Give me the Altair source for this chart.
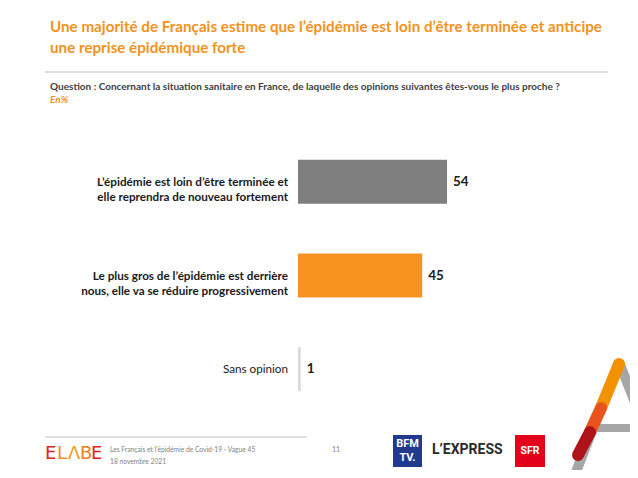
import altair as alt
import pandas as pd

# ---- data ----
categories = [
    "L\u2019épidémie est loin d\u2019être terminée et\nelle reprendra de nouveau fortement",
    "Le plus gros de l\u2019épidémie est derrière\nnous, elle va se réduire progressivement",
    "Sans opinion",
]
values = [54, 45, 1]
bar_colors = ["#7f7f7f", "#f7931e", "#d9d9d9"]
bold_label = [True, True, False]

title_lines = [
    "Une majorité de Français estime que l\u2019épidémie est loin d\u2019être terminée et anticipe",
    "une reprise épidémique forte",
]
question = "Question : Concernant la situation sanitaire en France, de laquelle des opinions suivantes êtes-vous le plus proche ?"
unit_note = "En%"
footer_lines = ["Les Français et l\u2019épidémie de Covid-19 - Vague 45", "18 novembre 2021"]
page_number = "11"

df = pd.DataFrame({
    "cat": categories,
    "value": values,
    "color": bar_colors,
    "bold": bold_label,
    "order": [0, 1, 2],
})

FONT = "Lato"
ORANGE = "#f29222"
# plot origin on the page
OX, OY = 298, 135


def px(x):
    return alt.value(x - OX)


def py(y):
    return alt.value(y - OY)


def one(t=""):
    return pd.DataFrame({"t": [t]})


ysc = alt.Y("cat:N", sort=categories, axis=None,
            scale=alt.Scale(paddingInner=0.53, paddingOuter=0.265))

bars = alt.Chart(df).mark_bar().encode(
    y=ysc,
    x=alt.X("value:Q", axis=None, scale=alt.Scale(domain=[0, 100])),
    color=alt.Color("color:N", scale=None),
)

vals = alt.Chart(df).mark_text(align="left", baseline="middle", dx=6,
                               font=FONT, fontSize=13.5, fontWeight="bold",
                               color="#1a1a1a").encode(
    y=ysc, x="value:Q", text="value:Q")

lab_bold = alt.Chart(df).transform_filter("datum.bold").mark_text(
    align="right", baseline="middle", lineBreak="\n", lineHeight=15,
    font=FONT, fontSize=11.7, fontWeight="bold", color="#1a1a1a").encode(
    y=ysc, x=alt.value(-10), text="cat:N")

lab_norm = alt.Chart(df).transform_filter("!datum.bold").mark_text(
    align="right", baseline="middle", font=FONT, fontSize=11.7,
    color="#1a1a1a").encode(y=ysc, x=alt.value(-10), text="cat:N")

layers = [bars, vals, lab_bold, lab_norm]

# ---- header ----
for i, (line, yy) in enumerate(zip(title_lines, [27, 48])):
    layers.append(alt.Chart(one(line)).mark_text(
        align="left", baseline="middle", font=FONT, fontSize=15.2,
        fontWeight="bold", color=ORANGE).encode(x=px(50), y=py(yy), text="t:N"))

layers.append(alt.Chart(one()).mark_rule(color="#bfbfbf", strokeWidth=1.2).encode(
    x=px(45), x2=px(608), y=py(72)))
layers.append(alt.Chart(one(question)).mark_text(
    align="left", baseline="middle", font=FONT, fontSize=10, fontWeight="bold",
    color="#404040").encode(x=px(50), y=py(87), text="t:N"))
layers.append(alt.Chart(one(unit_note)).mark_text(
    align="left", baseline="middle", font=FONT, fontSize=10, fontWeight="bold",
    fontStyle="italic", color=ORANGE).encode(x=px(50), y=py(100), text="t:N"))

# ---- footer ----
layers.append(alt.Chart(one()).mark_rule(color="#bfbfbf", strokeWidth=1).encode(
    x=px(45), x2=px(307), y=py(437)))
elabe_letters = ["E", "L", "Λ", "B", "E"]
elabe_colors = ["#e2231a", "#f28c1e", "#f39c1e", "#f07d1e", "#e2231a"]
elabe_x = [45, 57, 68, 80, 91]
for ch, col, xx in zip(elabe_letters, elabe_colors, elabe_x):
    layers.append(alt.Chart(one(ch)).mark_text(
        align="left", baseline="middle", font="DejaVu Sans", fontSize=18,
        color=col).encode(x=px(xx), y=py(454), text="t:N"))
for line, yy in zip(footer_lines, [450, 462]):
    layers.append(alt.Chart(one(line)).mark_text(
        align="left", baseline="middle", font=FONT, fontSize=6.7,
        color="#7f7f7f").encode(x=px(110), y=py(yy), text="t:N"))
layers.append(alt.Chart(one(page_number)).mark_text(
    align="left", baseline="middle", font=FONT, fontSize=7,
    color="#7f7f7f").encode(x=px(332), y=py(450), text="t:N"))

# BFM TV logo
layers.append(alt.Chart(one()).mark_rect(color="#213a8f").encode(
    x=px(393), x2=px(422), y=py(435), y2=py(467)))
for line, yy in zip(["BFM", "TV."], [444, 458]):
    layers.append(alt.Chart(one(line)).mark_text(
        align="center", baseline="middle", font="Roboto", fontSize=11,
        fontWeight="bold", color="white").encode(x=px(407.5), y=py(yy), text="t:N"))
# L'EXPRESS
layers.append(alt.Chart(one("L\u2019EXPRESS")).mark_text(
    align="left", baseline="middle", font="Roboto", fontSize=14,
    fontWeight="bold", color="#2b2b2b").encode(x=px(432), y=py(450), text="t:N"))
# SFR
layers.append(alt.Chart(one()).mark_rect(color="#e2001a").encode(
    x=px(515), x2=px(545), y=py(435), y2=py(467)))
layers.append(alt.Chart(one("SFR")).mark_text(
    align="center", baseline="middle", font="Roboto", fontSize=10.5,
    fontWeight="bold", color="white").encode(x=px(530), y=py(451), text="t:N"))

# A graphic
grey_A = "#a6a6a6"
layers.append(alt.Chart(one()).mark_rule(color=grey_A, strokeWidth=10).encode(
    x=px(619), x2=px(650), y=py(362), y2=py(440)))
layers.append(alt.Chart(one()).mark_rule(color=grey_A, strokeWidth=10).encode(
    x=px(619), x2=px(572), y=py(362), y2=py(482)))
layers.append(alt.Chart(one()).mark_rule(color=grey_A, strokeWidth=8).encode(
    x=px(588), x2=px(640), y=py(428), y2=py(428)))
layers.append(alt.Chart(one()).mark_rule(color="#f39200", strokeWidth=12, strokeCap="round").encode(
    x=px(619), x2=px(601), y=py(364), y2=py(408)))
layers.append(alt.Chart(one()).mark_rule(color="#e8531e", strokeWidth=12, strokeCap="round").encode(
    x=px(601), x2=px(590), y=py(408), y2=py(432)))
layers.append(alt.Chart(one()).mark_rule(color="#b0121a", strokeWidth=12, strokeCap="round").encode(
    x=px(590), x2=px(578), y=py(432), y2=py(455)))

chart = alt.layer(*layers).properties(
    width=276, height=281,
    padding={"left": 290, "top": 127, "right": 56, "bottom": 54},
    autosize=alt.AutoSizeParams(type="none"),
    background="white",
).configure_view(stroke=None)

chart.save("out.html", embed_options={"renderer": "svg", "actions": False})
